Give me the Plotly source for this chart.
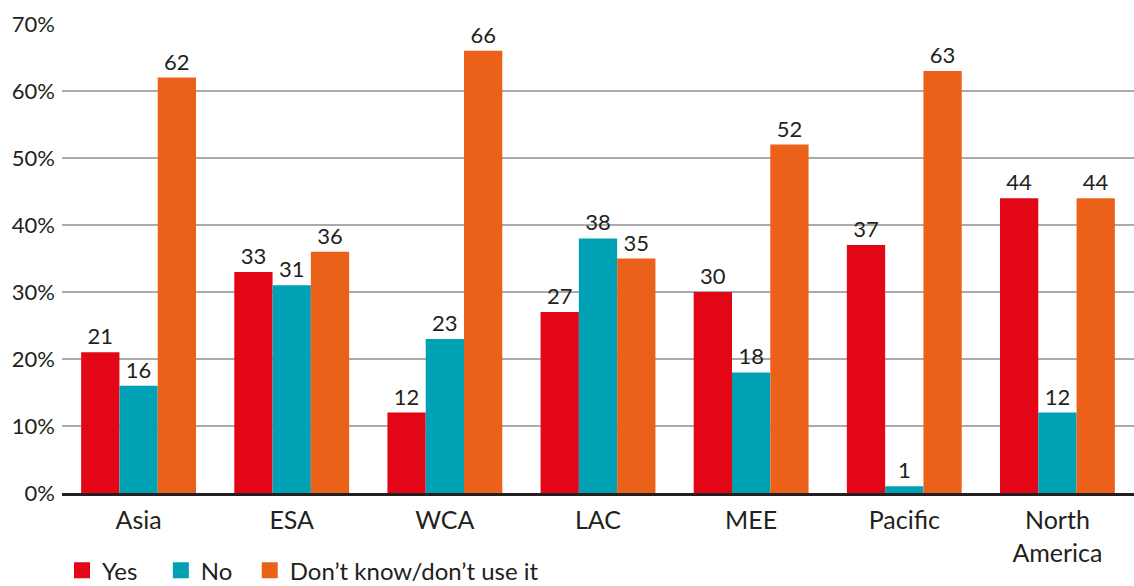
import plotly.graph_objects as go

regions = ["Asia", "ESA", "WCA", "LAC", "MEE", "Pacific", "North<br>America"]
yes_vals = [21, 33, 12, 27, 30, 37, 44]
no_vals = [16, 31, 23, 38, 18, 1, 12]
dont_vals = [62, 36, 66, 35, 52, 63, 44]

series = [
    ("Yes", yes_vals, "#E30617"),
    ("No", no_vals, "#00A1B5"),
    ("Don\u2019t know/don\u2019t use it", dont_vals, "#EC6119"),
]
# extra room after the shorter legend entries
legend_pad = ["\u00a0\u00a0\u00a0", "\u00a0\u00a0", ""]

FONT = "Lato, 'Open Sans', sans-serif"
INK = "#231F20"

fig = go.Figure()
for name, vals, color in series:
    fig.add_trace(go.Bar(
        x=regions, y=vals, name=name, showlegend=False,
        marker=dict(color=color, line=dict(width=0)),
        text=[str(v) for v in vals], texttemplate="%{text}",
        textposition="outside",
        textfont=dict(size=22, color=INK, family=FONT),
        cliponaxis=False,
    ))

# legend entries with square swatches
for (name, vals, color), pad in zip(series, legend_pad):
    fig.add_trace(go.Scatter(
        x=[None], y=[None], mode="markers", name=name + pad,
        marker=dict(symbol="square", size=17, color=color),
    ))

fig.update_layout(
    width=1134, height=586,
    margin=dict(l=62, r=0, t=24, b=93, autoexpand=False),
    paper_bgcolor="white", plot_bgcolor="white",
    barmode="group", bargap=0.25, bargroupgap=0,
    font=dict(family=FONT, size=22, color=INK),
    showlegend=True,
    legend=dict(
        orientation="h", x=0.0, xanchor="left",
        yref="container", y=0.026, yanchor="middle",
        font=dict(size=24, color=INK),
        itemwidth=30, tracegroupgap=0,
        bgcolor="rgba(0,0,0,0)",
    ),
    xaxis=dict(
        showgrid=False, showline=True, linecolor=INK, linewidth=3,
        ticks="", tickfont=dict(size=25), ticklabelstandoff=3,
        fixedrange=True,
    ),
    yaxis=dict(
        range=[0, 70], dtick=10, ticksuffix="%",
        showgrid=True, gridcolor="#ABABAB", gridwidth=1.5,
        zeroline=False, showline=False, ticks="",
        tickfont=dict(size=22), ticklabelstandoff=6,
    ),
)

fig.write_html("out.html")
